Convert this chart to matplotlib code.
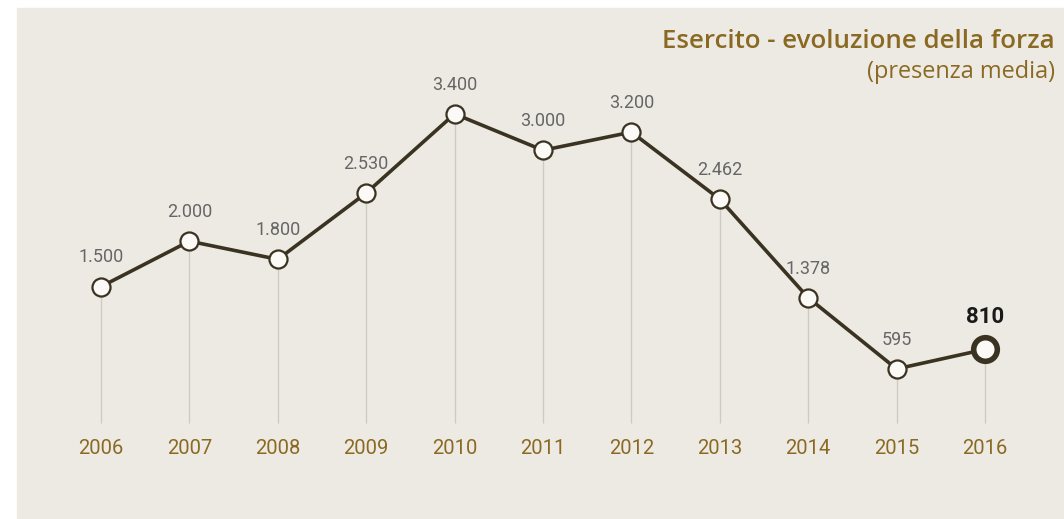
import matplotlib.pyplot as plt
from matplotlib.patches import Rectangle

# presenza media dell'Esercito per anno
years = [2006, 2007, 2008, 2009, 2010, 2011, 2012, 2013, 2014, 2015, 2016]
values = [1500, 2000, 1800, 2530, 3400, 3000, 3200, 2462, 1378, 595, 810]
labels = ["1.500", "2.000", "1.800", "2.530", "3.400", "3.000", "3.200",
          "2.462", "1.378", "595", "810"]

bg = "#edeae4"
line_col = "#3b3322"
gold = "#8a6a22"
grey = "#666666"

fig = plt.figure(figsize=(10.64, 5.19), dpi=100)
fig.patches.append(Rectangle((17 / 1064, 0), 1 - 17 / 1064, 511 / 519,
                             transform=fig.transFigure, color=bg, zorder=-5))

ax = fig.add_axes([0, 0, 1, 1])
ax.set_facecolor("none")
ax.set_xlim(2004.857, 2016.894)
ax.set_ylim(-1056, 4653)
ax.axis("off")

# linee verticali dal punto allo zero
ax.vlines(years, 0, values, color="#cfcbc2", lw=1, zorder=1)

ax.plot(years, values, color=line_col, lw=2.6, zorder=2)
ax.plot(years[:-1], values[:-1], "o", ms=13, mfc="#fbfaf7", mec=line_col,
        mew=1.6, zorder=3)
ax.plot(years[-1], values[-1], "o", ms=17, mfc="#fbfaf7", mec=line_col,
        mew=4, zorder=3)

for i, (x, v, lab) in enumerate(zip(years, values, labels)):
    last = i == len(years) - 1
    ax.annotate(lab, (x, v), xytext=(0, 23 if last else 21),
                textcoords="offset points", ha="center", va="center",
                fontsize=16 if last else 13, family="Roboto",
                fontweight="bold" if last else "normal",
                color="#1a1a1a" if last else grey)
    ax.annotate(str(x), (x, 0), xytext=(0, -18.5), textcoords="offset points",
                ha="center", va="center", fontsize=14.5, family="Roboto",
                color=gold)

fig.text(1055 / 1064, 1 - 42 / 519, "Esercito - evoluzione della forza",
         ha="right", va="center", fontsize=18.6, family="Open Sans",
         fontweight="semibold", color=gold)
fig.text(1055 / 1064, 1 - 72 / 519, "(presenza media)",
         ha="right", va="center", fontsize=16.9, family="Open Sans", color=gold)

fig.savefig("out.png", dpi=100, facecolor="white")
